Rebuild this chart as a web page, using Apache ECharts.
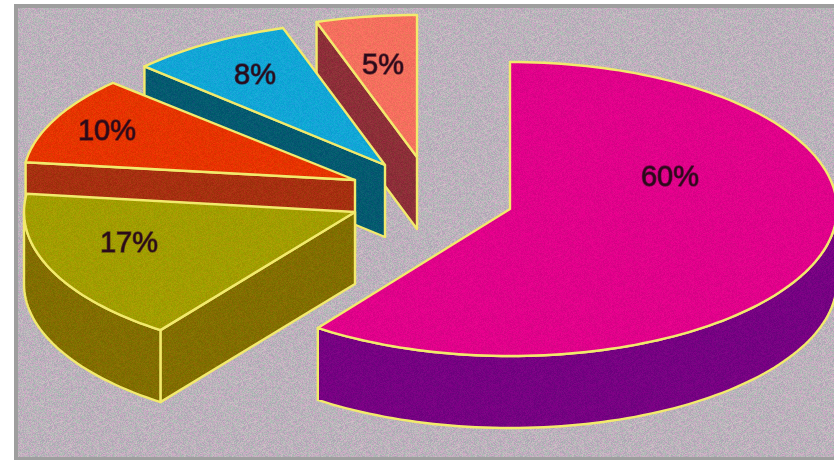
<!DOCTYPE html>
<html>
<head>
<meta charset="utf-8">
<style>html,body{margin:0;padding:0;background:#fff;overflow:hidden}#c{width:834px;height:460px;filter:blur(0.55px)}</style>
<script src="https://cdn.jsdelivr.net/npm/echarts@6/dist/echarts.min.js"></script>
</head>
<body>
<div id="c"></div>
<script>
// Shares, listed counter-clockwise from 12 o'clock (back slices first)
var sliceValues = [5, 8, 10, 17, 60];
var sliceLabels = ['5%', '8%', '10%', '17%', '60%'];
var topColors = ['#f4705e', '#12a6d6', '#e63400', '#a29d00', '#e0008a'];
var wallColors = ['#8c2f38', '#045a70', '#a63010', '#826e00', '#760082'];

// Exploded-view layout of the pie (not data)
var DEPTH = 72;
var radiiX = [325, 330, 332, 331, 327];
var radiiY = [142, 144, 142, 146, 147];
var apexes = [[417, 157], [385, 165], [355, 180], [355, 212], [510, 209]];
var labelOffsets = [[-34, -91], [-130, -89], [-248, -48], [-226, 32], [160, -31]];
var EDGE = '#f2ea6c';

function texture(hex, amp, seed) {
  var n = 97, cv = document.createElement('canvas');
  cv.width = cv.height = n;
  var g = cv.getContext('2d');
  var r = parseInt(hex.substr(1, 2), 16), gg = parseInt(hex.substr(3, 2), 16), b = parseInt(hex.substr(5, 2), 16);
  var s = seed;
  function next() { s = (s * 1103515245 + 12345) & 0x7fffffff; return (s >> 12) % 100 / 100 - 0.5; }
  for (var y = 0; y < n; y++) for (var x = 0; x < n; x++) {
    var a = next() * amp, t = next() * amp * 0.8;
    g.fillStyle = 'rgb(' + Math.max(0, Math.min(255, Math.round(r + a))) + ',' +
      Math.max(0, Math.min(255, Math.round(gg + t))) + ',' +
      Math.max(0, Math.min(255, Math.round(b + a * 0.5))) + ')';
    g.fillRect(x, y, 1, 1);
  }
  return { image: cv, repeat: 'repeat' };
}

var total = sliceValues.reduce(function (a, b) { return a + b; }, 0);
function ringPoint(i, deg, dz) {
  var t = deg * Math.PI / 180, c = apexes[i];
  return [c[0] + radiiX[i] * Math.sin(t), c[1] - radiiY[i] * Math.cos(t) + dz];
}
function arc(i, from, to, dz) {
  var pts = [], n = Math.max(2, Math.ceil(Math.abs(to - from) / 1.5));
  for (var k = 0; k <= n; k++) pts.push(ringPoint(i, from + (to - from) * k / n, dz));
  return pts;
}
function poly(points, fill) {
  return { type: 'polygon', shape: { points: points },
    style: { fill: fill, stroke: EDGE, lineWidth: 2.4, lineJoin: 'round' } };
}

var chart = echarts.init(document.getElementById('c'), null, { renderer: 'canvas' });
chart.setOption({
  animation: false,
  backgroundColor: '#fff',
  graphic: [{
    type: 'rect', z: 0, silent: true,
    shape: { x: 16, y: 6, width: 830, height: 453 },
    style: { fill: texture('#bcb2bc', 42, 7), stroke: '#9e9e9e', lineWidth: 4 }
  }],
  series: [{
    type: 'custom',
    coordinateSystem: 'none',
    z: 5,
    silent: true,
    data: sliceValues,
    renderItem: function (params, api) {
      var i = params.dataIndex, before = 0;
      for (var k = 0; k < i; k++) before += sliceValues[k];
      var a2 = 360 - before / total * 360;
      var a1 = a2 - api.value(0) / total * 360;
      var c = apexes[i], kids = [];
      var wall = texture(wallColors[i], 24, 11 + i), top = texture(topColors[i], 24, 31 + i);
      // flat cut face along the slice's clockwise-start edge; hidden for the big front slice
      if (i !== 4) {
        kids.push(poly([c, ringPoint(i, a1, 0), ringPoint(i, a1, DEPTH), [c[0], c[1] + DEPTH]], wall));
      }
      // outer rim wall (only the part facing the viewer, 90..270 deg)
      var w1 = Math.max(a1, 90), w2 = Math.min(a2, 270);
      if (w2 > w1) {
        kids.push(poly(arc(i, w1, w2, 0).concat(arc(i, w2, w1, DEPTH)), wall));
      }
      // top face
      kids.push(poly([c].concat(arc(i, a1, a2, 0)), top));
      // label
      kids.push({
        type: 'text',
        style: {
          x: c[0] + labelOffsets[i][0], y: c[1] + labelOffsets[i][1],
          text: sliceLabels[i], align: 'center', verticalAlign: 'middle',
          font: '500 29px "Liberation Sans", Arial, sans-serif',
          fill: '#2a0a1a', stroke: 'rgba(42,10,26,0.6)', lineWidth: 1.3
        }
      });
      return { type: 'group', children: kids };
    }
  }]
});
</script>
</body>
</html>
